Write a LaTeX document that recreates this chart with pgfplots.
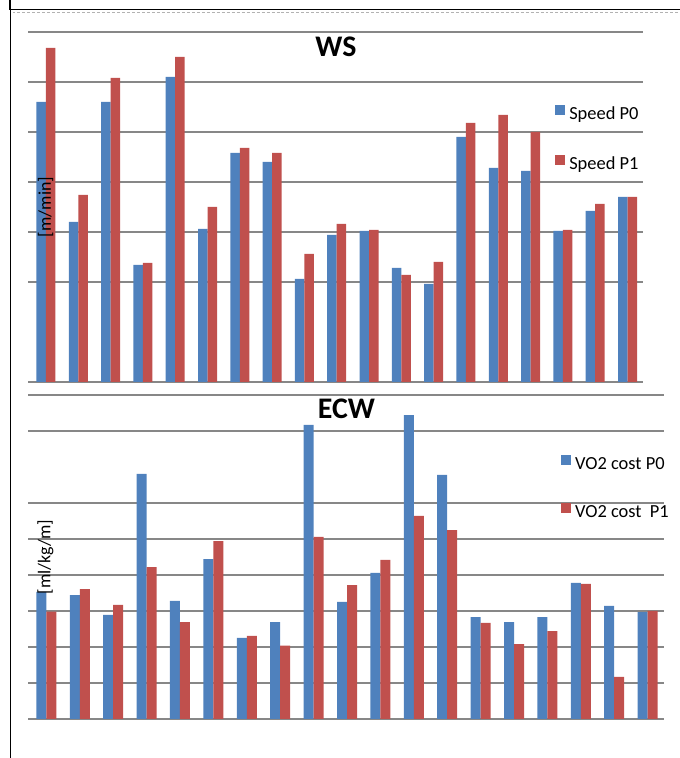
\documentclass[border=0pt]{standalone}
\usepackage{pgfplots}
\pgfplotsset{compat=1.18}
\usepackage{pgfplotstable}
\usepackage{fontspec}
\setmainfont{Carlito}
\definecolor{barblue}{HTML}{4F81BD}
\definecolor{barred}{HTML}{C0504D}
\definecolor{gridgray}{HTML}{878787}

\pgfplotstableread{
x p0 p1
0 5.60 6.68
1 3.20 3.74
2 5.60 6.08
3 2.34 2.38
4 6.10 6.50
5 3.06 3.50
6 4.58 4.68
7 4.40 4.58
8 2.06 2.56
9 2.94 3.16
10 3.02 3.04
11 2.28 2.14
12 1.96 2.40
13 4.90 5.18
14 4.28 5.34
15 4.22 5.00
16 3.02 3.04
17 3.42 3.56
18 3.70 3.70
}\wsdata

\pgfplotstableread{
x p0 p1
0 3.53 2.98
1 3.44 3.61
2 2.89 3.17
3 6.81 4.22
4 3.28 2.69
5 4.44 4.94
6 2.25 2.31
7 2.69 2.04
8 8.17 5.06
9 3.25 3.72
10 4.06 4.42
11 8.44 5.64
12 6.78 5.25
13 2.83 2.67
14 2.69 2.08
15 2.83 2.44
16 3.78 3.75
17 3.14 1.17
18 2.97 3.00
}\ecwdata

\pgfplotsset{
  panel/.style={
    scale only axis, anchor=south west,
    ybar=0pt,
    enlarge x limits=false,
    axis line style={draw=none},
    xtick=\empty, yticklabels={}, major tick length=0pt,
    ymajorgrids, grid style={gridgray, line width=1.6bp},
    legend cell align=left,
    legend style={draw=none, fill=none, anchor=north west, inner sep=0pt,
      column sep=4bp,
      font=\fontsize{18.5}{21}\selectfont,
      nodes={inner sep=0pt, text height=12bp, text depth=3bp}},
    legend image code/.code={\fill[##1] (0bp,0bp) rectangle (10bp,10bp);},
  },
}

\begin{document}
\begin{tikzpicture}
\path[use as bounding box] (0bp,0bp) rectangle (680bp,758bp);

% frame
\draw[black, line width=1.4bp] (10bp,758bp) -- (10bp,748.5bp) -- (680bp,748.5bp);
\draw[black, line width=1.2bp] (10.5bp,0bp) -- (10.5bp,748.5bp);
\draw[gray!60, line width=0.8bp, densely dashed] (12.5bp,746bp) -- (680bp,746bp);

\begin{axis}[panel,
  at={(28bp,376bp)}, width=615bp, height=350bp,
  xmin=-0.557, xmax=18.48, ymin=0, ymax=7,
  ytick={0,2,3,4,5,6,7},
  bar width=9.5bp,
  legend style={at={(0.857,0.792)}, row sep=33bp},
]
\addplot[fill=barblue, draw=none] table[x=x,y=p0]{\wsdata};
\addplot[fill=barred, draw=none] table[x=x,y=p1]{\wsdata};
\legend{Speed P0, Speed P1}
\end{axis}

\begin{axis}[panel,
  at={(28bp,39bp)}, width=636bp, height=324bp,
  xmin=-0.55, xmax=18.49, ymin=0, ymax=9,
  ytick={0,1,2,3,4,5,6,8,9},
  bar width=10bp,
  legend style={at={(0.838,0.815)}, row sep=30.5bp},
]
\addplot[fill=barblue, draw=none] table[x=x,y=p0]{\ecwdata};
\addplot[fill=barred, draw=none] table[x=x,y=p1]{\ecwdata};
\legend{VO2 cost P0, VO2 cost~ P1}
\end{axis}

\node[font=\fontsize{30}{32}\bfseries\selectfont, inner sep=0pt] at (336bp,711bp) {WS};
\node[font=\fontsize{30}{32}\bfseries\selectfont, inner sep=0pt] at (346.5bp,349bp) {ECW};
\node[font=\fontsize{18}{20}\selectfont, inner sep=0pt, rotate=90] at (45.5bp,551bp) {[m/min]};
\node[font=\fontsize{18}{20}\selectfont, inner sep=0pt, rotate=90] at (45.5bp,201bp) {[ml/kg/m]};
\end{tikzpicture}
\end{document}
